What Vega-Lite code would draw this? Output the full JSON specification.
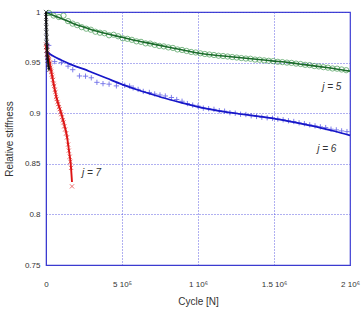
{
  "$schema": "https://vega.github.io/schema/vega-lite/v6.json",
  "width": 304,
  "height": 253,
  "autosize": {"type": "none"},
  "padding": {"left": 46, "top": 12, "right": 13, "bottom": 45},
  "background": "white",
  "config": {
    "view": {"stroke": "#3b3bd0", "strokeWidth": 1.2},
    "font": "Liberation Sans",
    "axis": {
      "labelFont": "Liberation Sans",
      "titleFont": "Liberation Sans",
      "labelFontSize": 8,
      "titleFontSize": 10,
      "titleFontWeight": "normal",
      "labelColor": "#333333",
      "titleColor": "#333333",
      "domainColor": "#3b3bd0",
      "gridColor": "#4f4fe0",
      "gridDash": [1, 2],
      "gridWidth": 0.9,
      "ticks": false
    }
  },
  "datasets": {
    "measured": [
      {"series": "j = 5", "cycle": 20000, "stiffness": 0.9990},
      {"series": "j = 5", "cycle": 50000, "stiffness": 0.9965},
      {"series": "j = 5", "cycle": 85000, "stiffness": 0.9950},
      {"series": "j = 5", "cycle": 115000, "stiffness": 0.9965},
      {"series": "j = 5", "cycle": 145000, "stiffness": 0.9910},
      {"series": "j = 5", "cycle": 175000, "stiffness": 0.9885},
      {"series": "j = 5", "cycle": 205000, "stiffness": 0.9870},
      {"series": "j = 5", "cycle": 235000, "stiffness": 0.9850},
      {"series": "j = 5", "cycle": 265000, "stiffness": 0.9835},
      {"series": "j = 5", "cycle": 295000, "stiffness": 0.9825},
      {"series": "j = 5", "cycle": 325000, "stiffness": 0.9805},
      {"series": "j = 5", "cycle": 355000, "stiffness": 0.9795},
      {"series": "j = 5", "cycle": 385000, "stiffness": 0.9790},
      {"series": "j = 5", "cycle": 415000, "stiffness": 0.9770},
      {"series": "j = 5", "cycle": 445000, "stiffness": 0.9775},
      {"series": "j = 5", "cycle": 475000, "stiffness": 0.9760},
      {"series": "j = 5", "cycle": 505000, "stiffness": 0.9740},
      {"series": "j = 5", "cycle": 535000, "stiffness": 0.9735},
      {"series": "j = 5", "cycle": 565000, "stiffness": 0.9725},
      {"series": "j = 5", "cycle": 595000, "stiffness": 0.9710},
      {"series": "j = 5", "cycle": 625000, "stiffness": 0.9705},
      {"series": "j = 5", "cycle": 655000, "stiffness": 0.9690},
      {"series": "j = 5", "cycle": 685000, "stiffness": 0.9688},
      {"series": "j = 5", "cycle": 715000, "stiffness": 0.9675},
      {"series": "j = 5", "cycle": 745000, "stiffness": 0.9665},
      {"series": "j = 5", "cycle": 775000, "stiffness": 0.9660},
      {"series": "j = 5", "cycle": 805000, "stiffness": 0.9650},
      {"series": "j = 5", "cycle": 835000, "stiffness": 0.9645},
      {"series": "j = 5", "cycle": 865000, "stiffness": 0.9630},
      {"series": "j = 5", "cycle": 895000, "stiffness": 0.9625},
      {"series": "j = 5", "cycle": 925000, "stiffness": 0.9615},
      {"series": "j = 5", "cycle": 955000, "stiffness": 0.9605},
      {"series": "j = 5", "cycle": 985000, "stiffness": 0.9600},
      {"series": "j = 5", "cycle": 1015000, "stiffness": 0.9592},
      {"series": "j = 5", "cycle": 1045000, "stiffness": 0.9585},
      {"series": "j = 5", "cycle": 1075000, "stiffness": 0.9580},
      {"series": "j = 5", "cycle": 1105000, "stiffness": 0.9575},
      {"series": "j = 5", "cycle": 1135000, "stiffness": 0.9568},
      {"series": "j = 5", "cycle": 1165000, "stiffness": 0.9565},
      {"series": "j = 5", "cycle": 1195000, "stiffness": 0.9560},
      {"series": "j = 5", "cycle": 1225000, "stiffness": 0.9555},
      {"series": "j = 5", "cycle": 1255000, "stiffness": 0.9550},
      {"series": "j = 5", "cycle": 1285000, "stiffness": 0.9545},
      {"series": "j = 5", "cycle": 1315000, "stiffness": 0.9540},
      {"series": "j = 5", "cycle": 1345000, "stiffness": 0.9538},
      {"series": "j = 5", "cycle": 1375000, "stiffness": 0.9530},
      {"series": "j = 5", "cycle": 1405000, "stiffness": 0.9528},
      {"series": "j = 5", "cycle": 1435000, "stiffness": 0.9522},
      {"series": "j = 5", "cycle": 1465000, "stiffness": 0.9518},
      {"series": "j = 5", "cycle": 1495000, "stiffness": 0.9515},
      {"series": "j = 5", "cycle": 1525000, "stiffness": 0.9508},
      {"series": "j = 5", "cycle": 1555000, "stiffness": 0.9505},
      {"series": "j = 5", "cycle": 1585000, "stiffness": 0.9500},
      {"series": "j = 5", "cycle": 1615000, "stiffness": 0.9497},
      {"series": "j = 5", "cycle": 1645000, "stiffness": 0.9490},
      {"series": "j = 5", "cycle": 1675000, "stiffness": 0.9486},
      {"series": "j = 5", "cycle": 1705000, "stiffness": 0.9478},
      {"series": "j = 5", "cycle": 1735000, "stiffness": 0.9475},
      {"series": "j = 5", "cycle": 1765000, "stiffness": 0.9466},
      {"series": "j = 5", "cycle": 1795000, "stiffness": 0.9462},
      {"series": "j = 5", "cycle": 1825000, "stiffness": 0.9455},
      {"series": "j = 5", "cycle": 1855000, "stiffness": 0.9450},
      {"series": "j = 5", "cycle": 1885000, "stiffness": 0.9442},
      {"series": "j = 5", "cycle": 1915000, "stiffness": 0.9440},
      {"series": "j = 5", "cycle": 1945000, "stiffness": 0.9432},
      {"series": "j = 5", "cycle": 1975000, "stiffness": 0.9425},

      {"series": "j = 6", "cycle": 18000, "stiffness": 0.9670},
      {"series": "j = 6", "cycle": 57000, "stiffness": 0.9510},
      {"series": "j = 6", "cycle": 101000, "stiffness": 0.9500},
      {"series": "j = 6", "cycle": 145000, "stiffness": 0.9465},
      {"series": "j = 6", "cycle": 176000, "stiffness": 0.9430},
      {"series": "j = 6", "cycle": 220000, "stiffness": 0.9368},
      {"series": "j = 6", "cycle": 260000, "stiffness": 0.9366},
      {"series": "j = 6", "cycle": 298000, "stiffness": 0.9350},
      {"series": "j = 6", "cycle": 335000, "stiffness": 0.9305},
      {"series": "j = 6", "cycle": 375000, "stiffness": 0.9292},
      {"series": "j = 6", "cycle": 415000, "stiffness": 0.9287},
      {"series": "j = 6", "cycle": 463000, "stiffness": 0.9270},
      {"series": "j = 6", "cycle": 518000, "stiffness": 0.9275},
      {"series": "j = 6", "cycle": 550000, "stiffness": 0.9268},
      {"series": "j = 6", "cycle": 573000, "stiffness": 0.9250},
      {"series": "j = 6", "cycle": 606000, "stiffness": 0.9235},
      {"series": "j = 6", "cycle": 640000, "stiffness": 0.9215},
      {"series": "j = 6", "cycle": 680000, "stiffness": 0.9205},
      {"series": "j = 6", "cycle": 715000, "stiffness": 0.9190},
      {"series": "j = 6", "cycle": 750000, "stiffness": 0.9180},
      {"series": "j = 6", "cycle": 785000, "stiffness": 0.9170},
      {"series": "j = 6", "cycle": 825000, "stiffness": 0.9155},
      {"series": "j = 6", "cycle": 860000, "stiffness": 0.9135},
      {"series": "j = 6", "cycle": 895000, "stiffness": 0.9118},
      {"series": "j = 6", "cycle": 930000, "stiffness": 0.9095},
      {"series": "j = 6", "cycle": 965000, "stiffness": 0.9080},
      {"series": "j = 6", "cycle": 1000000, "stiffness": 0.9070},
      {"series": "j = 6", "cycle": 1035000, "stiffness": 0.9050},
      {"series": "j = 6", "cycle": 1070000, "stiffness": 0.9045},
      {"series": "j = 6", "cycle": 1105000, "stiffness": 0.9038},
      {"series": "j = 6", "cycle": 1140000, "stiffness": 0.9025},
      {"series": "j = 6", "cycle": 1175000, "stiffness": 0.9020},
      {"series": "j = 6", "cycle": 1210000, "stiffness": 0.9005},
      {"series": "j = 6", "cycle": 1245000, "stiffness": 0.9000},
      {"series": "j = 6", "cycle": 1280000, "stiffness": 0.8990},
      {"series": "j = 6", "cycle": 1315000, "stiffness": 0.8987},
      {"series": "j = 6", "cycle": 1350000, "stiffness": 0.8975},
      {"series": "j = 6", "cycle": 1385000, "stiffness": 0.8968},
      {"series": "j = 6", "cycle": 1420000, "stiffness": 0.8960},
      {"series": "j = 6", "cycle": 1455000, "stiffness": 0.8955},
      {"series": "j = 6", "cycle": 1490000, "stiffness": 0.8950},
      {"series": "j = 6", "cycle": 1525000, "stiffness": 0.8942},
      {"series": "j = 6", "cycle": 1560000, "stiffness": 0.8935},
      {"series": "j = 6", "cycle": 1595000, "stiffness": 0.8925},
      {"series": "j = 6", "cycle": 1630000, "stiffness": 0.8918},
      {"series": "j = 6", "cycle": 1665000, "stiffness": 0.8905},
      {"series": "j = 6", "cycle": 1700000, "stiffness": 0.8897},
      {"series": "j = 6", "cycle": 1735000, "stiffness": 0.8885},
      {"series": "j = 6", "cycle": 1770000, "stiffness": 0.8875},
      {"series": "j = 6", "cycle": 1805000, "stiffness": 0.8865},
      {"series": "j = 6", "cycle": 1840000, "stiffness": 0.8858},
      {"series": "j = 6", "cycle": 1875000, "stiffness": 0.8842},
      {"series": "j = 6", "cycle": 1910000, "stiffness": 0.8835},
      {"series": "j = 6", "cycle": 1945000, "stiffness": 0.8825},
      {"series": "j = 6", "cycle": 1980000, "stiffness": 0.8818},

      {"series": "j = 7", "cycle": 0, "stiffness": 0.968},
      {"series": "j = 7", "cycle": 2000, "stiffness": 0.965},
      {"series": "j = 7", "cycle": 4000, "stiffness": 0.962},
      {"series": "j = 7", "cycle": 6000, "stiffness": 0.966},
      {"series": "j = 7", "cycle": 8000, "stiffness": 0.958},
      {"series": "j = 7", "cycle": 10000, "stiffness": 0.960},
      {"series": "j = 7", "cycle": 12000, "stiffness": 0.955},
      {"series": "j = 7", "cycle": 15000, "stiffness": 0.957},
      {"series": "j = 7", "cycle": 18000, "stiffness": 0.952},
      {"series": "j = 7", "cycle": 20000, "stiffness": 0.954},
      {"series": "j = 7", "cycle": 23000, "stiffness": 0.948},
      {"series": "j = 7", "cycle": 26000, "stiffness": 0.950},
      {"series": "j = 7", "cycle": 29000, "stiffness": 0.945},
      {"series": "j = 7", "cycle": 32000, "stiffness": 0.943},
      {"series": "j = 7", "cycle": 35000, "stiffness": 0.941},
      {"series": "j = 7", "cycle": 38000, "stiffness": 0.938},
      {"series": "j = 7", "cycle": 42000, "stiffness": 0.936},
      {"series": "j = 7", "cycle": 46000, "stiffness": 0.933},
      {"series": "j = 7", "cycle": 50000, "stiffness": 0.929},
      {"series": "j = 7", "cycle": 54000, "stiffness": 0.927},
      {"series": "j = 7", "cycle": 58000, "stiffness": 0.923},
      {"series": "j = 7", "cycle": 62000, "stiffness": 0.921},
      {"series": "j = 7", "cycle": 66000, "stiffness": 0.916},
      {"series": "j = 7", "cycle": 70000, "stiffness": 0.914},
      {"series": "j = 7", "cycle": 75000, "stiffness": 0.911},
      {"series": "j = 7", "cycle": 80000, "stiffness": 0.909},
      {"series": "j = 7", "cycle": 85000, "stiffness": 0.906},
      {"series": "j = 7", "cycle": 90000, "stiffness": 0.904},
      {"series": "j = 7", "cycle": 95000, "stiffness": 0.901},
      {"series": "j = 7", "cycle": 100000, "stiffness": 0.899},
      {"series": "j = 7", "cycle": 105000, "stiffness": 0.896},
      {"series": "j = 7", "cycle": 110000, "stiffness": 0.893},
      {"series": "j = 7", "cycle": 115000, "stiffness": 0.891},
      {"series": "j = 7", "cycle": 120000, "stiffness": 0.887},
      {"series": "j = 7", "cycle": 126000, "stiffness": 0.884},
      {"series": "j = 7", "cycle": 132000, "stiffness": 0.880},
      {"series": "j = 7", "cycle": 138000, "stiffness": 0.876},
      {"series": "j = 7", "cycle": 145000, "stiffness": 0.869},
      {"series": "j = 7", "cycle": 150000, "stiffness": 0.863},
      {"series": "j = 7", "cycle": 156000, "stiffness": 0.857},
      {"series": "j = 7", "cycle": 160000, "stiffness": 0.852},
      {"series": "j = 7", "cycle": 165000, "stiffness": 0.846},
      {"series": "j = 7", "cycle": 171000, "stiffness": 0.8277},

      {"series": "initial", "cycle": 0, "stiffness": 1.000},
      {"series": "initial", "cycle": 500, "stiffness": 0.995},
      {"series": "initial", "cycle": 1000, "stiffness": 0.990},
      {"series": "initial", "cycle": 1500, "stiffness": 0.985},
      {"series": "initial", "cycle": 2000, "stiffness": 0.980},
      {"series": "initial", "cycle": 3000, "stiffness": 0.975},
      {"series": "initial", "cycle": 3500, "stiffness": 0.970},
      {"series": "initial", "cycle": 5000, "stiffness": 0.966},
      {"series": "initial", "cycle": 6000, "stiffness": 0.962},
      {"series": "initial", "cycle": 8000, "stiffness": 0.958},
      {"series": "initial", "cycle": 10000, "stiffness": 0.955},
      {"series": "initial", "cycle": 12000, "stiffness": 0.952},
      {"series": "initial", "cycle": 15000, "stiffness": 0.948},
      {"series": "initial", "cycle": 18000, "stiffness": 0.945},
      {"series": "initial", "cycle": 21000, "stiffness": 0.943}
    ],
    "fitted": [
      {"series": "j = 5", "cycle": 0, "stiffness": 0.9995},
      {"series": "j = 5", "cycle": 50000, "stiffness": 0.9965},
      {"series": "j = 5", "cycle": 100000, "stiffness": 0.9935},
      {"series": "j = 5", "cycle": 150000, "stiffness": 0.9905},
      {"series": "j = 5", "cycle": 200000, "stiffness": 0.9875},
      {"series": "j = 5", "cycle": 250000, "stiffness": 0.9850},
      {"series": "j = 5", "cycle": 300000, "stiffness": 0.9825},
      {"series": "j = 5", "cycle": 400000, "stiffness": 0.9785},
      {"series": "j = 5", "cycle": 500000, "stiffness": 0.9750},
      {"series": "j = 5", "cycle": 600000, "stiffness": 0.9715},
      {"series": "j = 5", "cycle": 700000, "stiffness": 0.9685},
      {"series": "j = 5", "cycle": 800000, "stiffness": 0.9655},
      {"series": "j = 5", "cycle": 900000, "stiffness": 0.9625},
      {"series": "j = 5", "cycle": 1000000, "stiffness": 0.9595},
      {"series": "j = 5", "cycle": 1100000, "stiffness": 0.9575},
      {"series": "j = 5", "cycle": 1200000, "stiffness": 0.9560},
      {"series": "j = 5", "cycle": 1300000, "stiffness": 0.9545},
      {"series": "j = 5", "cycle": 1400000, "stiffness": 0.9530},
      {"series": "j = 5", "cycle": 1500000, "stiffness": 0.9515},
      {"series": "j = 5", "cycle": 1600000, "stiffness": 0.9500},
      {"series": "j = 5", "cycle": 1700000, "stiffness": 0.9480},
      {"series": "j = 5", "cycle": 1800000, "stiffness": 0.9460},
      {"series": "j = 5", "cycle": 1900000, "stiffness": 0.9440},
      {"series": "j = 5", "cycle": 2000000, "stiffness": 0.9416},

      {"series": "j = 6", "cycle": 0, "stiffness": 0.9610},
      {"series": "j = 6", "cycle": 25000, "stiffness": 0.9585},
      {"series": "j = 6", "cycle": 50000, "stiffness": 0.9562},
      {"series": "j = 6", "cycle": 100000, "stiffness": 0.9525},
      {"series": "j = 6", "cycle": 150000, "stiffness": 0.9490},
      {"series": "j = 6", "cycle": 200000, "stiffness": 0.9460},
      {"series": "j = 6", "cycle": 250000, "stiffness": 0.9435},
      {"series": "j = 6", "cycle": 300000, "stiffness": 0.9405},
      {"series": "j = 6", "cycle": 400000, "stiffness": 0.9345},
      {"series": "j = 6", "cycle": 500000, "stiffness": 0.9285},
      {"series": "j = 6", "cycle": 600000, "stiffness": 0.9232},
      {"series": "j = 6", "cycle": 700000, "stiffness": 0.9185},
      {"series": "j = 6", "cycle": 800000, "stiffness": 0.9140},
      {"series": "j = 6", "cycle": 900000, "stiffness": 0.9100},
      {"series": "j = 6", "cycle": 1000000, "stiffness": 0.9062},
      {"series": "j = 6", "cycle": 1100000, "stiffness": 0.9032},
      {"series": "j = 6", "cycle": 1200000, "stiffness": 0.9008},
      {"series": "j = 6", "cycle": 1300000, "stiffness": 0.8988},
      {"series": "j = 6", "cycle": 1400000, "stiffness": 0.8968},
      {"series": "j = 6", "cycle": 1500000, "stiffness": 0.8947},
      {"series": "j = 6", "cycle": 1600000, "stiffness": 0.8920},
      {"series": "j = 6", "cycle": 1700000, "stiffness": 0.8890},
      {"series": "j = 6", "cycle": 1800000, "stiffness": 0.8858},
      {"series": "j = 6", "cycle": 1900000, "stiffness": 0.8822},
      {"series": "j = 6", "cycle": 2000000, "stiffness": 0.8780},

      {"series": "j = 7", "cycle": 0, "stiffness": 0.967},
      {"series": "j = 7", "cycle": 10000, "stiffness": 0.959},
      {"series": "j = 7", "cycle": 25000, "stiffness": 0.949},
      {"series": "j = 7", "cycle": 45000, "stiffness": 0.933},
      {"series": "j = 7", "cycle": 70000, "stiffness": 0.915},
      {"series": "j = 7", "cycle": 100000, "stiffness": 0.900},
      {"series": "j = 7", "cycle": 120000, "stiffness": 0.889},
      {"series": "j = 7", "cycle": 138000, "stiffness": 0.877},
      {"series": "j = 7", "cycle": 152000, "stiffness": 0.862},
      {"series": "j = 7", "cycle": 162500, "stiffness": 0.850},
      {"series": "j = 7", "cycle": 171000, "stiffness": 0.832},

      {"series": "initial", "cycle": 0, "stiffness": 1.000},
      {"series": "initial", "cycle": 2000, "stiffness": 0.985},
      {"series": "initial", "cycle": 5000, "stiffness": 0.970},
      {"series": "initial", "cycle": 10000, "stiffness": 0.957},
      {"series": "initial", "cycle": 15000, "stiffness": 0.949},
      {"series": "initial", "cycle": 21000, "stiffness": 0.943}
    ],
    "labels": [
      {"label": "j = 5", "cycle": 1880000, "stiffness": 0.9257},
      {"label": "j = 6", "cycle": 1847000, "stiffness": 0.8644},
      {"label": "j = 7", "cycle": 300000, "stiffness": 0.8406}
    ]
  },
  "encoding": {
    "x": {
      "field": "cycle",
      "type": "quantitative",
      "scale": {"domain": [0, 2000000], "nice": false, "zero": false},
      "axis": {
        "title": "Cycle [N]",
        "values": [0, 500000, 1000000, 1500000, 2000000],
        "labelExpr": "datum.value == 0 ? '0' : datum.value == 500000 ? '5 10⁵' : datum.value == 1000000 ? '1 10⁶' : datum.value == 1500000 ? '1.5 10⁶' : '2 10⁶'",
        "labelPadding": 15,
        "labelFlush": false,
        "titlePadding": 8,
        "grid": true
      }
    },
    "y": {
      "field": "stiffness",
      "type": "quantitative",
      "scale": {"domain": [0.75, 1], "nice": false, "zero": false},
      "axis": {
        "title": "Relative stiffness",
        "values": [0.75, 0.8, 0.85, 0.9, 0.95, 1],
        "labelExpr": "format(datum.value, '.2~f')",
        "labelPadding": 6,
        "labelFlush": false,
        "titlePadding": 10,
        "grid": true
      }
    }
  },
  "layer": [
    {
      "data": {"name": "measured"},
      "mark": {"type": "point", "filled": false, "strokeWidth": 0.9, "size": 28, "clip": false},
      "encoding": {
        "color": {
          "field": "series",
          "type": "nominal",
          "scale": {"domain": ["j = 5", "j = 6", "j = 7", "initial"], "range": ["#2f8f3f", "#3535e0", "#e02020", "#111111"]},
          "legend": null
        },
        "shape": {
          "field": "series",
          "type": "nominal",
          "scale": {"domain": ["j = 5", "j = 6", "j = 7", "initial"], "range": ["circle", "M-1,0L1,0M0,-1L0,1", "M-0.8,-0.8L0.8,0.8M0.8,-0.8L-0.8,0.8", "M-0.8,-0.8L0.8,0.8M0.8,-0.8L-0.8,0.8"]},
          "legend": null
        }
      }
    },
    {
      "data": {"name": "fitted"},
      "mark": {"type": "line", "interpolate": "monotone"},
      "encoding": {
        "stroke": {
          "field": "series",
          "type": "nominal",
          "scale": {"domain": ["j = 5", "j = 6", "j = 7", "initial"], "range": ["#1a6a2a", "#1616c8", "#dd1414", "#111111"]},
          "legend": null
        },
        "strokeWidth": {
          "field": "series",
          "type": "nominal",
          "scale": {"domain": ["j = 5", "j = 6", "j = 7", "initial"], "range": [1.6, 2, 1.6, 1.8]},
          "legend": null
        },
        "order": {"field": "cycle", "type": "quantitative"}
      }
    },
    {
      "data": {"name": "labels"},
      "mark": {"type": "text", "font": "Liberation Sans", "fontSize": 10, "fontStyle": "italic", "color": "#333333", "align": "center", "baseline": "middle"},
      "encoding": {"text": {"field": "label", "type": "nominal"}}
    }
  ]
}
